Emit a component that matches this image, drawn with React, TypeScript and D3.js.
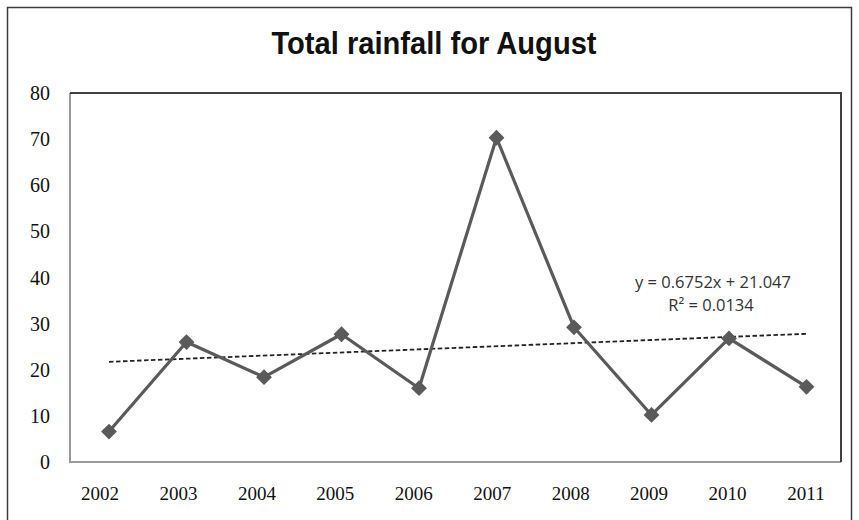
import { useEffect, useRef } from "react"
import * as d3 from "d3"

// chart data
const years = ["2002", "2003", "2004", "2005", "2006", "2007", "2008", "2009", "2010", "2011"]
const rainfall = [6.6, 26.0, 18.4, 27.7, 16.0, 70.3, 29.2, 10.2, 26.8, 16.3]
const yTicks = [0, 10, 20, 30, 40, 50, 60, 70, 80]
const trendSlope = 0.6752
const trendIntercept = 21.047
const trendR2 = 0.0134

const W = 859
const H = 520

export default function App() {
  const svgRef = useRef<SVGSVGElement>(null)

  useEffect(() => {
    if (!svgRef.current) return
    const svg = d3.select(svgRef.current)
    svg.selectAll("*").remove()

    const plot = { left: 70, right: 841, top: 93, bottom: 462 }

    const x = d3.scalePoint<string>().domain(years).range([109, 806.5])
    // labels sit on a slightly wider spacing than the points in the original
    const xLabel = d3.scalePoint<string>().domain(years).range([100, 806])
    const y = d3.scaleLinear().domain([0, 80]).range([plot.bottom, plot.top])

    svg.append("rect").attr("width", W).attr("height", H).attr("fill", "#fff")

    // outer border
    svg
      .append("rect")
      .attr("x", 7.5)
      .attr("y", 7.5)
      .attr("width", 844)
      .attr("height", 530)
      .attr("fill", "none")
      .attr("stroke", "#3a3a3a")
      .attr("stroke-width", 1.5)

    // title
    svg
      .append("text")
      .attr("transform", "translate(434,54) scale(1.04,1.1)")
      .attr("text-anchor", "middle")
      .style("font-family", "'Liberation Sans', Arial, sans-serif")
      .style("font-weight", "bold")
      .style("font-size", "28px")
      .style("fill", "#111")
      .text("Total rainfall for August")

    // plot frame: light left/bottom, dark top/right
    const frame = svg.append("g")
    frame
      .append("path")
      .attr("d", `M${plot.left},${plot.top}V${plot.bottom}H${plot.right}`)
      .attr("fill", "none")
      .attr("stroke", "#9a9a9a")
      .attr("stroke-width", 2)
    frame
      .append("path")
      .attr("d", `M${plot.left},${plot.top}H${plot.right}V${plot.bottom}`)
      .attr("fill", "none")
      .attr("stroke", "#404040")
      .attr("stroke-width", 2)

    // y labels
    svg
      .append("g")
      .selectAll("text")
      .data(yTicks)
      .enter()
      .append("text")
      .attr("x", 50)
      .attr("y", (d) => y(d))
      .attr("dy", "0.35em")
      .attr("text-anchor", "end")
      .style("font-family", "'Liberation Serif', 'Times New Roman', serif")
      .style("font-size", "20px")
      .style("fill", "#111")
      .text((d) => d)

    // x labels
    svg
      .append("g")
      .selectAll("text")
      .data(years)
      .enter()
      .append("text")
      .attr("x", (d) => xLabel(d)!)
      .attr("y", 493)
      .attr("dy", "0.35em")
      .attr("text-anchor", "middle")
      .style("font-family", "'Liberation Serif', 'Times New Roman', serif")
      .style("font-size", "19px")
      .style("fill", "#111")
      .text((d) => d)

    // trend line (linear, x = 1..n)
    const trendPts = [years[0], years[years.length - 1]].map((yr) => {
      const i = years.indexOf(yr) + 1
      return [x(yr)!, y(trendSlope * i + trendIntercept)] as [number, number]
    })
    svg
      .append("path")
      .attr("d", d3.line()(trendPts))
      .attr("fill", "none")
      .attr("stroke", "#222")
      .attr("stroke-width", 1.8)
      .attr("stroke-dasharray", "4.5,2.5")

    // series line
    const line = d3
      .line<number>()
      .x((d, i) => x(years[i])!)
      .y((d) => y(d))
    svg
      .append("path")
      .datum(rainfall)
      .attr("d", line)
      .attr("fill", "none")
      .attr("stroke", "#5a5a5a")
      .attr("stroke-width", 3.2)
      .attr("stroke-linejoin", "round")

    // diamond markers
    const sym = d3.symbol().type(d3.symbolSquare).size(125)
    svg
      .append("g")
      .selectAll("path")
      .data(rainfall)
      .enter()
      .append("path")
      .attr("d", sym)
      .attr("transform", (d, i) => `translate(${x(years[i])},${y(d)}) rotate(45)`)
      .attr("fill", "#5a5a5a")

    // equation label
    const eq = svg
      .append("text")
      .attr("text-anchor", "middle")
      .style("font-family", "'Open Sans', sans-serif")
      .style("font-size", "16.5px")
      .style("fill", "#333")
    eq.append("tspan")
      .attr("x", 713)
      .attr("y", 288)
      .text(`y = ${trendSlope}x + ${trendIntercept}`)
    eq.append("tspan")
      .attr("x", 711)
      .attr("y", 311)
      .text(`R² = ${trendR2}`)
  }, [])

  return (
    <svg
      ref={svgRef}
      width={W}
      height={H}
      style={{ position: "absolute", left: 0, top: 0, display: "block" }}
    />
  )
}
